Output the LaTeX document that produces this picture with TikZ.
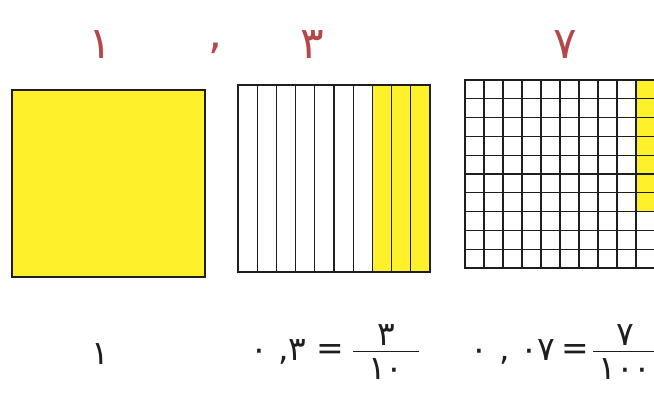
\documentclass[tikz,border=0pt]{standalone}
\usepackage{fontspec}
\usetikzlibrary{positioning}
\newfontfamily\digitfont{DejaVu Sans}
\definecolor{digit}{HTML}{B4474A}
\definecolor{fillyel}{HTML}{FFF02C}
\definecolor{ink}{HTML}{1E1E1E}
\tikzset{
  every node/.style={text=ink},
  topdigit/.style={font=\digitfont\fontsize{44}{44}\selectfont,text=digit,inner sep=0pt},
  numtext/.style={font=\digitfont\fontsize{33}{33}\selectfont,inner sep=0pt},
  unitbox/.style={draw=ink,line width=1.4pt,fill=fillyel},
  gridline/.style={draw=ink,line width=1.3pt},
  fracbar/.style={fill=ink,inner sep=0pt,minimum height=1pt},
}

\begin{document}
\begin{tikzpicture}[x=1pt,y=-1pt]
\useasboundingbox (0,0) rectangle (654,398);

% place-value headings
\node[topdigit] (ones) at (100,45) {١};
\node[topdigit] (comma) at (215,48) {,};
\node[topdigit] (tenths) at (312,45) {٣};
\node[topdigit] (hundredths) at (565,45) {٧};

% one whole
\draw[unitbox] (12,90) rectangle (205,277);

% tenths strip
\fill[fillyel] (373.4,85) rectangle (430,272);
\foreach \i in {1,...,9}
  \draw[gridline] ({238+19.2*\i},85) -- ({238+19.2*\i},272);
\draw[gridline] (238,85) rectangle (430,272);

% hundredths grid
\fill[fillyel] (636,80) rectangle (655,211.6);
\foreach \i in {1,...,10}
  \draw[gridline] ({465+19*\i},80) -- ({465+19*\i},268);
\foreach \j in {1,...,9}
  \draw[gridline] (465,{80+18.8*\j}) -- (655,{80+18.8*\j});
\draw[gridline] (465,80) rectangle (655,268);

% values
\node[numtext] (one) at (100,354) {١};

\node[fracbar,minimum width=66pt] (bar3) at (386,352) {};
\node[numtext,above=6pt of bar3] (num3) {٣};
\node[numtext,below=6pt of bar3] (den3) {١٠};
\node[numtext,left=8pt of bar3] (eq3) {=};
\node[numtext,left=10pt of eq3] (dec3) {٠ ,٣};

\node[fracbar,minimum width=64pt] (bar7) at (625,352) {};
\node[numtext,above=6pt of bar7] (num7) {٧};
\node[numtext,below=6pt of bar7] (den7) {١٠٠};
\node[numtext,left=3pt of bar7] (eq7) {=};
\node[numtext,left=6pt of eq7] (dec7) {٠ , ٠٧};

\end{tikzpicture}
\end{document}
